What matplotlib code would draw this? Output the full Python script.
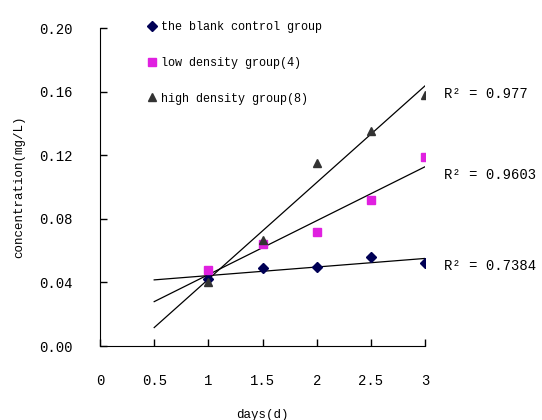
import numpy as np
import matplotlib
matplotlib.use("Agg")
import matplotlib.pyplot as plt

# datos
dias = [1, 1.5, 2, 2.5, 3]
blanco = [0.042, 0.049, 0.0497, 0.056, 0.052]
baja = [0.048, 0.064, 0.0717, 0.0918, 0.119]
alta = [0.040, 0.0667, 0.115, 0.135, 0.158]
r2_textos = ["R² = 0.7384", "R² = 0.9603", "R² = 0.977"]
etiquetas = ["the blank control group", "low density group(4)", "high density group(8)"]
x_ticks = [0, 0.5, 1, 1.5, 2, 2.5, 3]
y_ticks = [0.00, 0.04, 0.08, 0.12, 0.16, 0.20]

plt.rcParams['font.family'] = ['Liberation Mono', 'DejaVu Sans']

fig = plt.figure(figsize=(5.42, 4.2), dpi=100)
ax = fig.add_axes([0.1845, 0.176, 0.6, 0.757])

series = [
    (blanco, 'D', '#000055', 5),
    (baja, 's', '#E020E0', 6),
    (alta, '^', '#333333', 6),
]
x_linea = np.array([0.5, 3])
for (vals, marker, color, ms), lab, r2 in zip(series, etiquetas, r2_textos):
    ax.plot(dias, vals, linestyle='none', marker=marker, color=color,
            markersize=ms, label=lab, zorder=3)
    m, b = np.polyfit(dias, vals, 1)
    ax.plot(x_linea, m * x_linea + b, color='black', linewidth=0.9, zorder=2)
    ax.text(3.17, m * 3 + b - 0.005, r2, fontsize=10, va='center', ha='left',
            clip_on=False)

ax.set_xlim(0, 3)
ax.set_ylim(0, 0.2)
ax.set_xticks(x_ticks)
ax.set_xticklabels(["0", "0.5", "1", "1.5", "2", "2.5", "3"])
ax.set_yticks(y_ticks)
ax.set_yticklabels([f"{v:.2f}" for v in y_ticks])
ax.tick_params(direction='in', length=5, width=1, labelsize=10)
ax.tick_params(axis='x', pad=20)
ax.tick_params(axis='y', pad=20)
ax.spines['top'].set_visible(False)
ax.spines['right'].set_visible(False)
ax.set_xlabel("days(d)", fontsize=9, labelpad=15)
ax.set_ylabel("concentration(mg/L)", fontsize=9, labelpad=10)

ax.legend(loc='upper left', bbox_to_anchor=(0.11, 1.055), frameon=False,
          fontsize=8.5, handletextpad=0.2, labelspacing=2.0, handlelength=1)

fig.savefig("out.png", dpi=100)
